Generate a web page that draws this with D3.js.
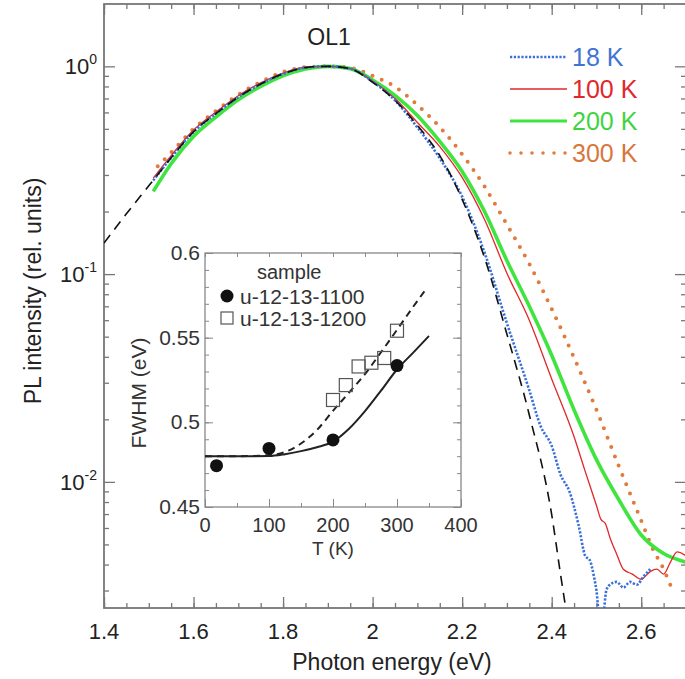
<!DOCTYPE html>
<html>
<head>
<meta charset="utf-8">
<script src="https://cdn.jsdelivr.net/npm/d3@7"></script>
<style>
  html, body { margin: 0; padding: 0; background: #fff; }
  svg { display: block; font-family: Arial, "Liberation Sans", sans-serif; }
</style>
</head>
<body>
<svg id="chart" width="685" height="679"></svg>
<script>
// ---- PL spectra of sample OL1 (normalised intensity vs photon energy, eV) ----
const fitEnergy = [1.40, 1.45, 1.50, 1.55, 1.60, 1.65, 1.70, 1.75, 1.80, 1.85, 1.90, 1.95, 2.00, 2.05, 2.10, 2.15, 2.20, 2.25, 2.30, 2.35, 2.40, 2.42, 2.435];
const fitIntensity = [0.141, 0.195, 0.266, 0.363, 0.484, 0.592, 0.711, 0.822, 0.920, 0.986, 1.0, 0.973, 0.837, 0.686, 0.520, 0.372, 0.229, 0.120, 0.0514, 0.0210, 0.00695, 0.00356, 0.0022];

const k18Energy = [1.51, 1.55, 1.60, 1.65, 1.70, 1.75, 1.80, 1.85, 1.90, 1.95, 2.00, 2.05, 2.10, 2.15, 2.20, 2.25, 2.30, 2.35, 2.375, 2.40, 2.42, 2.44, 2.46, 2.475, 2.485, 2.495, 2.50, 2.507, 2.515, 2.522, 2.53, 2.545, 2.56, 2.575, 2.59, 2.605, 2.62];
const k18Intensity = [0.282, 0.363, 0.484, 0.592, 0.711, 0.822, 0.920, 0.986, 1.0, 0.975, 0.845, 0.686, 0.508, 0.361, 0.236, 0.127, 0.058, 0.0276, 0.0186, 0.0149, 0.0108, 0.00895, 0.0062, 0.0044, 0.0042, 0.00345, 0.0030, 0.0022, 0.0023, 0.0030, 0.0032, 0.0033, 0.0031, 0.0033, 0.0032, 0.0035, 0.0038];

const k100Energy = [1.51, 1.55, 1.60, 1.65, 1.70, 1.75, 1.80, 1.85, 1.90, 1.95, 2.00, 2.05, 2.10, 2.15, 2.20, 2.25, 2.30, 2.35, 2.40, 2.45, 2.475, 2.50, 2.51, 2.52, 2.53, 2.545, 2.56, 2.58, 2.60, 2.62, 2.635, 2.65, 2.665, 2.68, 2.70];
const k100Intensity = [0.29, 0.372, 0.494, 0.603, 0.722, 0.832, 0.928, 0.99, 1.0, 0.975, 0.85, 0.70, 0.537, 0.411, 0.292, 0.183, 0.101, 0.060, 0.0313, 0.0165, 0.0112, 0.0077, 0.0066, 0.0063, 0.0054, 0.0045, 0.0038, 0.0036, 0.0034, 0.0037, 0.0038, 0.0036, 0.0041, 0.0046, 0.0044];

const k200Energy = [1.51, 1.55, 1.60, 1.65, 1.70, 1.75, 1.80, 1.85, 1.90, 1.95, 2.00, 2.05, 2.10, 2.15, 2.20, 2.25, 2.30, 2.35, 2.40, 2.45, 2.50, 2.55, 2.60, 2.65, 2.70];
const k200Intensity = [0.25, 0.34, 0.46, 0.57, 0.69, 0.80, 0.90, 0.97, 1.0, 0.975, 0.86, 0.725, 0.580, 0.435, 0.312, 0.200, 0.116, 0.070, 0.0407, 0.0222, 0.0128, 0.0082, 0.00555, 0.00452, 0.00411];

const k300Energy = [1.52, 1.55, 1.60, 1.65, 1.70, 1.75, 1.80, 1.85, 1.90, 1.95, 2.00, 2.05, 2.10, 2.15, 2.20, 2.25, 2.30, 2.35, 2.40, 2.45, 2.50, 2.55, 2.60, 2.625, 2.65, 2.67];
const k300Intensity = [0.33, 0.385, 0.50, 0.61, 0.73, 0.84, 0.94, 0.99, 1.0, 0.985, 0.90, 0.797, 0.651, 0.510, 0.377, 0.264, 0.173, 0.112, 0.068, 0.0396, 0.0222, 0.0119, 0.0065, 0.0048, 0.0038, 0.0030];

const seriesLabels = ["18 K", "100 K", "200 K", "300 K"];
const xMajorTicks = [1.4, 1.6, 1.8, 2.0, 2.2, 2.4, 2.6];
const xTickLabels = ["1.4", "1.6", "1.8", "2", "2.2", "2.4", "2.6"];
const yDecades = [0.01, 0.1, 1];
const yDecadeExponents = ["-2", "-1", "0"];

// ---- inset: FWHM vs temperature ----
const insetSampleLabels = ["u-12-13-1100", "u-12-13-1200"];
const s1100T = [18, 100, 200, 300];
const s1100Fwhm = [0.4744, 0.4846, 0.4896, 0.5335];
const s1200T = [200, 220, 240, 260, 280, 300];
const s1200Fwhm = [0.5132, 0.5220, 0.5330, 0.5352, 0.5380, 0.5541];
const fit1100T = [0, 50, 100, 125, 150, 175, 200, 225, 250, 275, 300, 325, 350];
const fit1100Fwhm = [0.480, 0.480, 0.4801, 0.4812, 0.4830, 0.4853, 0.4886, 0.4962, 0.5066, 0.5187, 0.5312, 0.5410, 0.5510];
const fit1200T = [0, 50, 100, 125, 150, 175, 200, 225, 250, 275, 300, 325, 346];
const fit1200Fwhm = [0.480, 0.480, 0.4805, 0.4825, 0.4875, 0.4955, 0.5068, 0.5175, 0.5285, 0.5414, 0.5546, 0.5681, 0.5790];
const insetXTicks = [0, 100, 200, 300, 400];
const insetYTicks = [0.45, 0.5, 0.55, 0.6];
const insetYTickLabels = ["0.45", "0.5", "0.55", "0.6"];

// ---------------------------------------------------------------
const svg = d3.select("#chart");
const frameColor = "#777";
const textColor = "#222";

const plot = { left: 104, right: 686, top: 4, bottom: 608 };
const x = d3.scaleLinear().domain([1.4, 2.7]).range([plot.left, plot.right]);
const y = d3.scaleLog().domain([Math.pow(10, -2.607), Math.pow(10, 0.3)]).range([plot.bottom, plot.top]);

svg.append("defs").append("clipPath").attr("id", "plotClip")
  .append("rect").attr("x", plot.left).attr("y", plot.top)
  .attr("width", plot.right - plot.left).attr("height", plot.bottom - plot.top);

// minor / major ticks on all four sides, pointing inward
const xMinor = d3.range(1.4, 2.701, 0.05).map(v => +v.toFixed(2));
const yMinor = [];
[0.001, 0.01, 0.1, 1].forEach(d => { for (let m = 2; m <= 9; m++) yMinor.push(d * m); });
const yMinorIn = yMinor.filter(v => v >= y.domain()[0] && v <= y.domain()[1]);

function styleAxis(g) {
  g.select(".domain").remove();
  g.selectAll(".tick line").attr("stroke", frameColor).attr("stroke-width", 1.3);
  g.selectAll(".tick text").remove();
}
const axes = svg.append("g");
axes.append("g").attr("transform", `translate(0,${plot.bottom})`)
  .call(d3.axisBottom(x).tickValues(xMinor).tickSize(-5)).call(styleAxis);
axes.append("g").attr("transform", `translate(0,${plot.bottom})`)
  .call(d3.axisBottom(x).tickValues(xMajorTicks).tickSize(-11)).call(styleAxis);
axes.append("g").attr("transform", `translate(0,${plot.top})`)
  .call(d3.axisTop(x).tickValues(xMinor).tickSize(-5)).call(styleAxis);
axes.append("g").attr("transform", `translate(0,${plot.top})`)
  .call(d3.axisTop(x).tickValues(xMajorTicks).tickSize(-11)).call(styleAxis);
axes.append("g").attr("transform", `translate(${plot.left},0)`)
  .call(d3.axisLeft(y).tickValues(yMinorIn).tickSize(-5)).call(styleAxis);
axes.append("g").attr("transform", `translate(${plot.left},0)`)
  .call(d3.axisLeft(y).tickValues(yDecades).tickSize(-11)).call(styleAxis);
axes.append("g").attr("transform", `translate(${plot.right},0)`)
  .call(d3.axisRight(y).tickValues(yMinorIn).tickSize(-5)).call(styleAxis);
axes.append("g").attr("transform", `translate(${plot.right},0)`)
  .call(d3.axisRight(y).tickValues(yDecades).tickSize(-11)).call(styleAxis);

svg.append("rect").attr("x", plot.left).attr("y", plot.top)
  .attr("width", plot.right - plot.left).attr("height", plot.bottom - plot.top)
  .attr("fill", "none").attr("stroke", frameColor).attr("stroke-width", 1.8);

// x tick labels
svg.append("g").selectAll("text").data(xMajorTicks).join("text")
  .attr("x", d => x(d)).attr("y", plot.bottom + 31)
  .attr("text-anchor", "middle").attr("font-size", 22).attr("fill", textColor)
  .text((d, i) => xTickLabels[i]);

// y decade labels with superscript exponents
const yLab = svg.append("g").selectAll("text").data(yDecades).join("text")
  .attr("x", plot.left - 7).attr("y", d => y(d) + 8)
  .attr("text-anchor", "end").attr("font-size", 22).attr("fill", textColor);
yLab.append("tspan").text("10");
yLab.append("tspan").attr("dy", -10).attr("font-size", 14).text((d, i) => yDecadeExponents[i]);

svg.append("text").attr("x", 392).attr("y", 670)
  .attr("text-anchor", "middle").attr("font-size", 23).attr("fill", textColor)
  .text("Photon energy (eV)");
svg.append("text").attr("transform", "translate(41,291) rotate(-90)")
  .attr("text-anchor", "middle").attr("font-size", 23).attr("fill", textColor)
  .text("PL intensity (rel. units)");

svg.append("text").attr("x", 329).attr("y", 45).attr("text-anchor", "middle")
  .attr("font-size", 23).attr("fill", textColor).text("OL1");

// spectra
const lineGen = d3.line().x(d => x(d[0])).y(d => y(d[1])).curve(d3.curveMonotoneX);
const zip = (a, b) => a.map((v, i) => [v, b[i]]);

const series = [
  { label: seriesLabels[0], pts: zip(k18Energy, k18Intensity), color: "#3a6fd8", width: 2.6, dash: "2.2,1.6", cap: "butt", text: "#3f74d6" },
  { label: seriesLabels[1], pts: zip(k100Energy, k100Intensity), color: "#e3262b", width: 1.3, dash: null, cap: "butt", text: "#e3262b" },
  { label: seriesLabels[2], pts: zip(k200Energy, k200Intensity), color: "#3fe43f", width: 3.6, dash: null, cap: "butt", text: "#3fd43f" },
  { label: seriesLabels[3], pts: zip(k300Energy, k300Intensity), color: "#e07b3c", width: 4, dash: "0,10", cap: "round", text: "#d8773c" }
];

const curves = svg.append("g").attr("clip-path", "url(#plotClip)");
// draw order: warm spectra underneath, fit on top
[series[3], series[2], series[1], series[0]].forEach(s => {
  curves.append("path").attr("d", lineGen(s.pts)).attr("fill", "none")
    .attr("stroke", s.color).attr("stroke-width", s.width)
    .attr("stroke-dasharray", s.dash).attr("stroke-linecap", s.cap)
    .attr("stroke-linejoin", "round");
});
curves.append("path").attr("d", lineGen(zip(fitEnergy, fitIntensity))).attr("fill", "none")
  .attr("stroke", "#111").attr("stroke-width", 1.6).attr("stroke-dasharray", "10,7");

// legend
const legend = svg.append("g");
series.forEach((s, i) => {
  const ly = 57 + i * 32;
  legend.append("line").attr("x1", 510).attr("x2", 567).attr("y1", ly).attr("y2", ly)
    .attr("stroke", s.color).attr("stroke-width", i === 2 ? 3.2 : (i === 3 ? 3.5 : s.width))
    .attr("stroke-dasharray", i === 3 ? "0,11" : s.dash).attr("stroke-linecap", s.cap);
  legend.append("text").attr("x", 572).attr("y", ly + 9).attr("font-size", 25)
    .attr("fill", s.text).text(s.label);
});

// ---------------- inset ----------------
const ins = { left: 205, right: 461, top: 253, bottom: 507 };
const ix = d3.scaleLinear().domain([0, 400]).range([ins.left, ins.right]);
const iy = d3.scaleLinear().domain([0.45, 0.6]).range([ins.bottom, ins.top]);
const inset = svg.append("g");
inset.append("rect").attr("x", ins.left).attr("y", ins.top)
  .attr("width", ins.right - ins.left).attr("height", ins.bottom - ins.top).attr("fill", "#fff");

const ixMinor = d3.range(0, 401, 50);
const iyMinor = d3.range(0, 16).map(i => +(0.45 + i * 0.01).toFixed(2));
function styleInset(g) {
  g.select(".domain").remove();
  g.selectAll(".tick line").attr("stroke", "#888").attr("stroke-width", 1);
  g.selectAll(".tick text").remove();
}
inset.append("g").attr("transform", `translate(0,${ins.bottom})`).call(d3.axisBottom(ix).tickValues(ixMinor).tickSize(-4)).call(styleInset);
inset.append("g").attr("transform", `translate(0,${ins.bottom})`).call(d3.axisBottom(ix).tickValues(insetXTicks).tickSize(-8)).call(styleInset);
inset.append("g").attr("transform", `translate(0,${ins.top})`).call(d3.axisTop(ix).tickValues(ixMinor).tickSize(-4)).call(styleInset);
inset.append("g").attr("transform", `translate(${ins.left},0)`).call(d3.axisLeft(iy).tickValues(iyMinor).tickSize(-4)).call(styleInset);
inset.append("g").attr("transform", `translate(${ins.left},0)`).call(d3.axisLeft(iy).tickValues(insetYTicks).tickSize(-8)).call(styleInset);
inset.append("g").attr("transform", `translate(${ins.right},0)`).call(d3.axisRight(iy).tickValues(iyMinor).tickSize(-4)).call(styleInset);
inset.append("g").attr("transform", `translate(${ins.right},0)`).call(d3.axisRight(iy).tickValues(insetYTicks).tickSize(-8)).call(styleInset);
inset.append("rect").attr("x", ins.left).attr("y", ins.top)
  .attr("width", ins.right - ins.left).attr("height", ins.bottom - ins.top)
  .attr("fill", "none").attr("stroke", "#888").attr("stroke-width", 1.3);

inset.append("g").selectAll("text").data(insetXTicks).join("text")
  .attr("x", d => ix(d)).attr("y", ins.bottom + 25).attr("text-anchor", "middle")
  .attr("font-size", 20).attr("fill", "#333").text(d => d);
inset.append("g").selectAll("text").data(insetYTicks).join("text")
  .attr("x", ins.left - 5).attr("y", d => iy(d) + 7).attr("text-anchor", "end")
  .attr("font-size", 21).attr("fill", "#333").text((d, i) => insetYTickLabels[i]);
inset.append("text").attr("x", ix(200)).attr("y", 555).attr("text-anchor", "middle")
  .attr("font-size", 19).attr("fill", "#333").text("T (K)");
inset.append("text").attr("transform", "translate(146,393) rotate(-90)").attr("text-anchor", "middle")
  .attr("font-size", 21).attr("fill", "#333").text("FWHM (eV)");

const iline = d3.line().x(d => ix(d[0])).y(d => iy(d[1])).curve(d3.curveMonotoneX);
inset.append("path").attr("d", iline(zip(fit1100T, fit1100Fwhm))).attr("fill", "none")
  .attr("stroke", "#222").attr("stroke-width", 2);
inset.append("path").attr("d", iline(zip(fit1200T, fit1200Fwhm))).attr("fill", "none")
  .attr("stroke", "#222").attr("stroke-width", 2).attr("stroke-dasharray", "7,5");

inset.append("g").selectAll("rect").data(zip(s1200T, s1200Fwhm)).join("rect")
  .attr("x", d => ix(d[0]) - 6.5).attr("y", d => iy(d[1]) - 6.5)
  .attr("width", 13).attr("height", 13).attr("fill", "none")
  .attr("stroke", "#555").attr("stroke-width", 1.2);
inset.append("g").selectAll("circle").data(zip(s1100T, s1100Fwhm)).join("circle")
  .attr("cx", d => ix(d[0])).attr("cy", d => iy(d[1])).attr("r", 6.5).attr("fill", "#111");

// inset legend
inset.append("text").attr("x", 257).attr("y", 279).attr("font-size", 20).attr("fill", "#333").text("sample");
inset.append("circle").attr("cx", 227).attr("cy", 296).attr("r", 6.5).attr("fill", "#111");
inset.append("text").attr("x", 240).attr("y", 304).attr("font-size", 21).attr("fill", "#333").text(insetSampleLabels[0]);
inset.append("rect").attr("x", 221).attr("y", 312).attr("width", 12).attr("height", 12)
  .attr("fill", "none").attr("stroke", "#555").attr("stroke-width", 1.2);
inset.append("text").attr("x", 240).attr("y", 326).attr("font-size", 21).attr("fill", "#333").text(insetSampleLabels[1]);
</script>
</body>
</html>
